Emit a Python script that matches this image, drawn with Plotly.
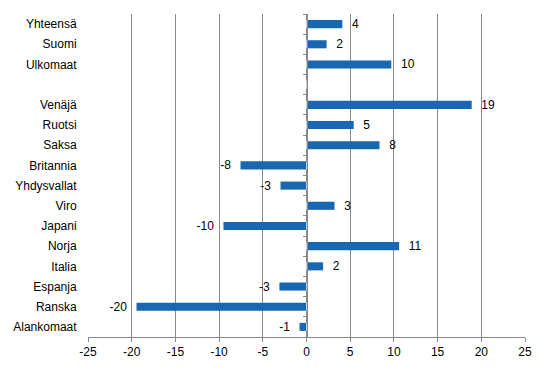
import plotly.graph_objects as go

categories = ["Yhteensä", "Suomi", "Ulkomaat", " ", "Venäjä", "Ruotsi", "Saksa", "Britannia",
              "Yhdysvallat", "Viro", "Japani", "Norja", "Italia", "Espanja", "Ranska", "Alankomaat"]
values = [4.1, 2.3, 9.7, None, 18.9, 5.4, 8.35, -7.55, -2.97, 3.2, -9.5, 10.6, 1.9, -3.1, -19.45, -0.8]
labels = [4, 2, 10, None, 19, 5, 8, -8, -3, 3, -10, 11, 2, -3, -20, -1]
x_ticks = [-25, -20, -15, -10, -5, 0, 5, 10, 15, 20, 25]

texts = []
for v, lab in zip(values, labels):
    if lab is None:
        texts.append("")
    elif lab >= 0:
        texts.append("  " + str(lab))
    else:
        texts.append(str(lab) + "  ")

font = dict(family="Liberation Sans, Arial, sans-serif", size=12, color="#000000")

fig = go.Figure()
fig.add_trace(go.Bar(
    y=categories, x=values, orientation="h",
    marker=dict(color="#1767B1", line=dict(width=0)),
    text=texts, textposition="outside", textfont=font, cliponaxis=False,
    constraintext="none", hoverinfo="skip",
))
# invisible trace for the zero-position category axis with boundary ticks
fig.add_trace(go.Bar(y=categories, x=[0] * len(categories), orientation="h",
                     yaxis="y2", showlegend=False, hoverinfo="skip",
                     marker=dict(color="rgba(0,0,0,0)")))

fig.update_layout(
    width=546, height=376,
    margin=dict(l=88, r=21, t=14, b=39, autoexpand=False),
    paper_bgcolor="white", plot_bgcolor="white",
    showlegend=False, bargap=0.6, barmode="overlay",
    font=font,
    xaxis=dict(range=[-25, 25], tickvals=x_ticks, ticktext=[str(t) for t in x_ticks],
               showgrid=True, gridcolor="#888888", gridwidth=1, automargin=False,
               zeroline=False, showline=True, linecolor="#888888", linewidth=1,
               ticks="outside", ticklen=4, tickcolor="#888888", tickfont=font),
    yaxis=dict(categoryorder="array", categoryarray=categories, autorange="reversed",
               showgrid=False, zeroline=False, showline=False, automargin=False,
               ticks="outside", ticklen=8, tickcolor="rgba(0,0,0,0)", tickfont=font),
    yaxis2=dict(overlaying="y", anchor="free", position=0.5, side="left",
                categoryorder="array", categoryarray=categories, autorange="reversed",
                showgrid=False, zeroline=False, showline=True, linecolor="#888888",
                linewidth=1, ticks="outside", ticklen=4, tickcolor="#888888",
                tickson="boundaries", showticklabels=False, automargin=False),
)

fig.write_html("out.html", config={"displayModeBar": False},
               post_script="document.body.style.margin='0';document.body.style.overflow='hidden';")
